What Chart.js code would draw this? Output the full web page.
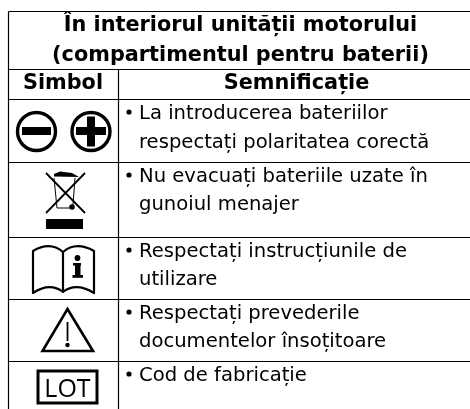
<!DOCTYPE html>
<html>
<head>
<meta charset="utf-8">
<style>
  html, body { margin: 0; padding: 0; background: #fff; }
  canvas { display: block; }
</style>
<script src="https://cdn.jsdelivr.net/npm/chart.js@4"></script>
</head>
<body>
<canvas id="symbolTable" width="470" height="409"></canvas>
<script>
const titleLines = ["În interiorul unității motorului", "(compartimentul pentru baterii)"];
const columnHeaders = ["Simbol", "Semnificație"];
const meanings = [
  ["La introducerea bateriilor", "respectați polaritatea corectă"],
  ["Nu evacuați bateriile uzate în", "gunoiul menajer"],
  ["Respectați instrucțiunile de", "utilizare"],
  ["Respectați prevederile", "documentelor însoțitoare"],
  ["Cod de fabricație"]
];
const rowEdges = [11.5, 69.5, 99.5, 162.5, 237.5, 299.5, 361.5];
const columnEdges = [8.5, 118.5];
const baselines = [[119, 148], [182, 210], [257, 285], [319, 347], [381]];

const BLACK = "#000";
const FONT = '"DejaVu Sans", "Noto Sans", sans-serif';

function segment(x0, y0, x1, y1) {
  return {
    data: [{ x: x0, y: y0 }, { x: x1, y: y1 }],
    showLine: true,
    borderColor: BLACK,
    borderWidth: 1.2,
    pointRadius: 0
  };
}

const ruleDatasets = [
  ...rowEdges.map(y => segment(columnEdges[0], y, 470, y)),
  segment(columnEdges[0], rowEdges[0], columnEdges[0], 409),
  segment(columnEdges[1], rowEdges[1], columnEdges[1], 409)
];

const tableText = {
  id: "tableText",
  afterDatasetsDraw(chart) {
    const { ctx, scales } = chart;
    const px = v => scales.x.getPixelForValue(v);
    const py = v => scales.y.getPixelForValue(v);

    ctx.save();
    ctx.fillStyle = BLACK;
    ctx.strokeStyle = BLACK;
    ctx.textBaseline = "alphabetic";

    ctx.textAlign = "center";
    ctx.font = "bold 20.8px " + FONT;
    ctx.fillText(titleLines[0], px(240.5), py(31));
    ctx.fillText(titleLines[1], px(240.5), py(61));
    ctx.fillText(columnHeaders[0], px(63), py(89));
    ctx.fillText(columnHeaders[1], px(296.5), py(89));

    ctx.textAlign = "left";
    ctx.font = "19.6px " + FONT;
    meanings.forEach((lines, r) => {
      lines.forEach((line, i) => ctx.fillText(line, px(139), py(baselines[r][i])));
      ctx.beginPath();
      ctx.arc(px(129), py(baselines[r][0] - 7), 2.6, 0, Math.PI * 2);
      ctx.fill();
    });

    drawPolarity(ctx, px, py);
    drawBin(ctx, px, py);
    drawBook(ctx, px, py);
    drawWarning(ctx, px, py);
    drawLot(ctx, px, py);
    ctx.restore();
  }
};

function drawPolarity(ctx, px, py) {
  ctx.lineWidth = 3.4;
  [36.5, 91].forEach(cx => {
    ctx.beginPath();
    ctx.arc(px(cx), py(131.5), 19, 0, Math.PI * 2);
    ctx.stroke();
  });
  ctx.fillRect(px(22), py(127), 29, 8);
  ctx.fillRect(px(76), py(127), 30, 8);
  ctx.fillRect(px(87), py(116.5), 8, 30);
}

function drawBin(ctx, px, py) {
  ctx.lineWidth = 1.8;
  ctx.beginPath();
  ctx.moveTo(px(46), py(173));
  ctx.lineTo(px(85), py(213));
  ctx.moveTo(px(85), py(173));
  ctx.lineTo(px(46), py(213));
  ctx.stroke();
  ctx.lineWidth = 1;
  ctx.beginPath();
  ctx.moveTo(px(54), py(178));
  ctx.lineTo(px(57), py(208));
  ctx.lineTo(px(72), py(208));
  ctx.moveTo(px(75), py(178));
  ctx.lineTo(px(73), py(205));
  ctx.stroke();
  // lid
  ctx.beginPath();
  ctx.moveTo(px(54), py(174));
  ctx.lineTo(px(60), py(171.5));
  ctx.lineTo(px(72), py(173));
  ctx.lineTo(px(79), py(177));
  ctx.lineTo(px(54), py(176.5));
  ctx.closePath();
  ctx.fill();
  ctx.beginPath();
  ctx.arc(px(72), py(207), 2.8, 0, Math.PI * 2);
  ctx.fill();
  ctx.fillRect(px(46), py(219), 37, 10);
}

function drawBook(ctx, px, py) {
  ctx.lineWidth = 2.2;
  ctx.lineJoin = "round";
  ctx.beginPath();
  ctx.moveTo(px(63), py(252));
  ctx.quadraticCurveTo(px(50), py(241), px(33), py(251));
  ctx.lineTo(px(33), py(293));
  ctx.quadraticCurveTo(px(50), py(282), px(63), py(292));
  ctx.quadraticCurveTo(px(76), py(282), px(94), py(293));
  ctx.lineTo(px(94), py(251));
  ctx.quadraticCurveTo(px(76), py(241), px(63), py(252));
  ctx.lineTo(px(63), py(292));
  ctx.stroke();
  ctx.beginPath();
  ctx.arc(px(77.5), py(258), 2.9, 0, Math.PI * 2);
  ctx.fill();
  ctx.fillRect(px(73), py(263), 8, 2.5);
  ctx.fillRect(px(75), py(263), 5.5, 14);
  ctx.fillRect(px(72.5), py(275), 10.5, 2.8);
}

function drawWarning(ctx, px, py) {
  ctx.lineWidth = 2.6;
  ctx.lineJoin = "miter";
  ctx.beginPath();
  ctx.moveTo(px(67.5), py(309));
  ctx.lineTo(px(93), py(351));
  ctx.lineTo(px(42.5), py(351));
  ctx.closePath();
  ctx.stroke();
  ctx.lineWidth = 1.8;
  ctx.beginPath();
  ctx.moveTo(px(67.5), py(322));
  ctx.lineTo(px(67.5), py(341));
  ctx.stroke();
  ctx.beginPath();
  ctx.arc(px(67.5), py(345), 2.2, 0, Math.PI * 2);
  ctx.fill();
}

function drawLot(ctx, px, py) {
  ctx.lineWidth = 3;
  ctx.strokeRect(px(38), py(371), 59, 32);
  ctx.textAlign = "center";
  ctx.font = '25px "Open Sans", sans-serif';
  ctx.fillText("LOT", px(67.5), py(397));
}

new Chart(document.getElementById("symbolTable"), {
  type: "scatter",
  data: { datasets: ruleDatasets },
  options: {
    responsive: false,
    animation: false,
    layout: { padding: 0 },
    scales: {
      x: { type: "linear", min: 0, max: 470, display: false },
      y: { type: "linear", min: 0, max: 409, reverse: true, display: false }
    },
    plugins: { legend: { display: false }, tooltip: { enabled: false } }
  },
  plugins: [tableText]
});
</script>
</body>
</html>
